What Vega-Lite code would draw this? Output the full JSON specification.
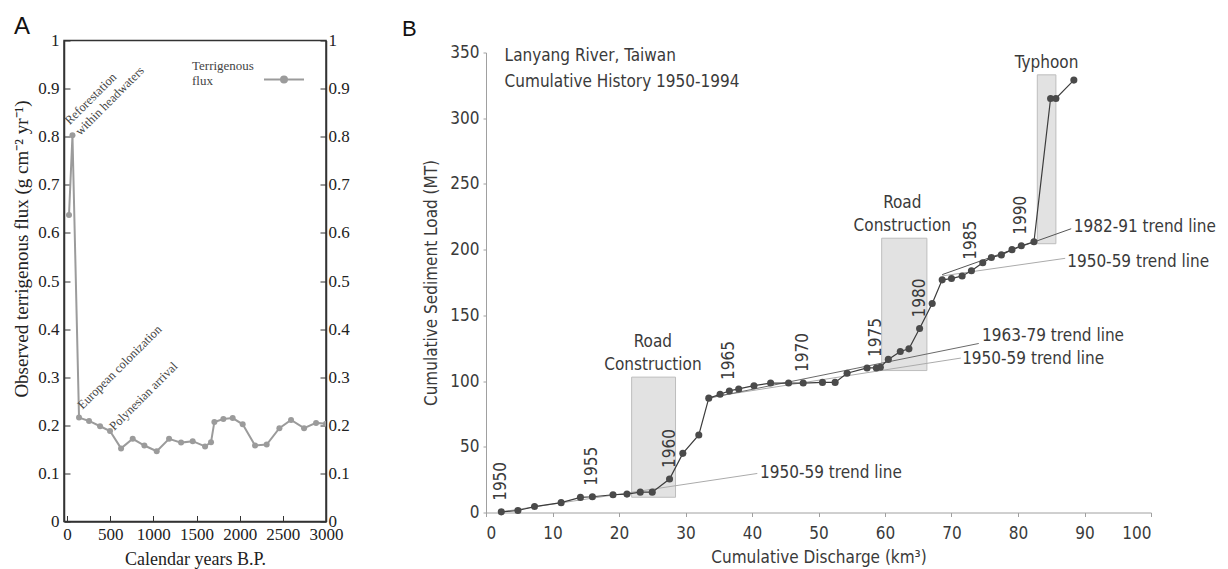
{
  "$schema": "https://vega.github.io/schema/vega-lite/v6.json",
  "background": "white",
  "padding": {"left": 12, "top": 13.5, "right": 5, "bottom": 5},
  "spacing": 52,
  "config": {"view": {"stroke": null}, "axis": {"grid": false}},
  "resolve": {"scale": {"color": "independent"}, "legend": {"color": "independent"}},
  "datasets": {
    "fluxA": [
      {"years_bp": 23, "flux": 0.637},
      {"years_bp": 63, "flux": 0.803},
      {"years_bp": 139, "flux": 0.216},
      {"years_bp": 255, "flux": 0.209},
      {"years_bp": 383, "flux": 0.198},
      {"years_bp": 498, "flux": 0.188},
      {"years_bp": 626, "flux": 0.152},
      {"years_bp": 761, "flux": 0.172},
      {"years_bp": 896, "flux": 0.158},
      {"years_bp": 1039, "flux": 0.146},
      {"years_bp": 1182, "flux": 0.172},
      {"years_bp": 1321, "flux": 0.164},
      {"years_bp": 1456, "flux": 0.167},
      {"years_bp": 1599, "flux": 0.156},
      {"years_bp": 1668, "flux": 0.165},
      {"years_bp": 1707, "flux": 0.207},
      {"years_bp": 1811, "flux": 0.213},
      {"years_bp": 1919, "flux": 0.215},
      {"years_bp": 2035, "flux": 0.202},
      {"years_bp": 2178, "flux": 0.158},
      {"years_bp": 2313, "flux": 0.16},
      {"years_bp": 2460, "flux": 0.194},
      {"years_bp": 2595, "flux": 0.211},
      {"years_bp": 2746, "flux": 0.194},
      {"years_bp": 2885, "flux": 0.205},
      {"years_bp": 3000, "flux": 0.203}
    ],
    "notesA1": [{"years_bp": 63, "flux": 0.803, "note": "Reforestation\nwithin headwaters"}],
    "notesA2": [{"years_bp": 139, "flux": 0.216, "note": "European colonization"}],
    "notesA3": [{"years_bp": 498, "flux": 0.188, "note": "Polynesian arrival"}],
    "lanyang": [
      {"year": 1950, "discharge": 2.3, "sediment": 0.5},
      {"year": 1951, "discharge": 4.8, "sediment": 1.5},
      {"year": 1952, "discharge": 7.3, "sediment": 4.5},
      {"year": 1953, "discharge": 11.3, "sediment": 7.5},
      {"year": 1954, "discharge": 14.2, "sediment": 11.5},
      {"year": 1955, "discharge": 16.0, "sediment": 12},
      {"year": 1956, "discharge": 19.1, "sediment": 13.5},
      {"year": 1957, "discharge": 21.2, "sediment": 14},
      {"year": 1958, "discharge": 23.2, "sediment": 15.5},
      {"year": 1959, "discharge": 25.0, "sediment": 15.5},
      {"year": 1960, "discharge": 27.6, "sediment": 25.5},
      {"year": 1961, "discharge": 29.6, "sediment": 45},
      {"year": 1962, "discharge": 32.0, "sediment": 59},
      {"year": 1963, "discharge": 33.5, "sediment": 87},
      {"year": 1964, "discharge": 35.2, "sediment": 90},
      {"year": 1965, "discharge": 36.6, "sediment": 92.5},
      {"year": 1966, "discharge": 38.0, "sediment": 94},
      {"year": 1967, "discharge": 40.3, "sediment": 96.5},
      {"year": 1968, "discharge": 42.8, "sediment": 98.5},
      {"year": 1969, "discharge": 45.5, "sediment": 98.5},
      {"year": 1970, "discharge": 47.7, "sediment": 98.5},
      {"year": 1971, "discharge": 50.6, "sediment": 99},
      {"year": 1972, "discharge": 52.5, "sediment": 99},
      {"year": 1973, "discharge": 54.3, "sediment": 106},
      {"year": 1974, "discharge": 57.3, "sediment": 110},
      {"year": 1975, "discharge": 58.7, "sediment": 110},
      {"year": 1976, "discharge": 59.3, "sediment": 110.5},
      {"year": 1977, "discharge": 60.5, "sediment": 116.5},
      {"year": 1978, "discharge": 62.3, "sediment": 122.5},
      {"year": 1979, "discharge": 63.6, "sediment": 124.5},
      {"year": 1980, "discharge": 65.2, "sediment": 140},
      {"year": 1981, "discharge": 67.1, "sediment": 159},
      {"year": 1982, "discharge": 68.6, "sediment": 177},
      {"year": 1983, "discharge": 70.0, "sediment": 178},
      {"year": 1984, "discharge": 71.6, "sediment": 180},
      {"year": 1985, "discharge": 73.0, "sediment": 184},
      {"year": 1986, "discharge": 74.7, "sediment": 190},
      {"year": 1987, "discharge": 76.0, "sediment": 194},
      {"year": 1988, "discharge": 77.5, "sediment": 196},
      {"year": 1989, "discharge": 79.1, "sediment": 200},
      {"year": 1990, "discharge": 80.5, "sediment": 203},
      {"year": 1991, "discharge": 82.4, "sediment": 206},
      {"year": 1992, "discharge": 84.9, "sediment": 315},
      {"year": 1993, "discharge": 85.7, "sediment": 315},
      {"year": 1994, "discharge": 88.4, "sediment": 329}
    ],
    "boxesB": [
      {"event": "Road construction 1", "x1": 21.9, "x2": 28.5, "y1": 11.6, "y2": 103},
      {"event": "Road construction 2", "x1": 59.5, "x2": 66.3, "y1": 108, "y2": 208.7},
      {"event": "Typhoon", "x1": 82.9, "x2": 85.7, "y1": 204.5, "y2": 333}
    ],
    "roadLabelsB": [
      {"x": 25.1, "y": 103, "label": "Road\nConstruction"},
      {"x": 62.6, "y": 208.7, "label": "Road\nConstruction"}
    ],
    "typhoonLabelB": [
      {"x": 84.3, "y": 333, "label": "Typhoon"}
    ],
    "trendsB": [
      {"trend": "t1", "kind": "1950-59", "x": 2.3, "y": 0.5},
      {"trend": "t1", "kind": "1950-59", "x": 40.8, "y": 29.7},
      {"trend": "t2", "kind": "1950-59", "x": 34.0, "y": 88},
      {"trend": "t2", "kind": "1950-59", "x": 71.4, "y": 117.5},
      {"trend": "t3", "kind": "1963-79", "x": 33.5, "y": 87},
      {"trend": "t3", "kind": "1963-79", "x": 74.1, "y": 128.6},
      {"trend": "t4", "kind": "1950-59", "x": 68.6, "y": 180},
      {"trend": "t4", "kind": "1950-59", "x": 87.1, "y": 193.4},
      {"trend": "t5", "kind": "1982-91", "x": 68.6, "y": 181},
      {"trend": "t5", "kind": "1982-91", "x": 88.0, "y": 215.9}
    ],
    "trendLabelsB": [
      {"x": 41.2, "y": 30, "label": "1950-59 trend line"},
      {"x": 71.6, "y": 116.5, "label": "1950-59 trend line"},
      {"x": 74.6, "y": 134.5, "label": "1963-79 trend line"},
      {"x": 87.4, "y": 190.8, "label": "1950-59 trend line"},
      {"x": 88.4, "y": 217.6, "label": "1982-91 trend line"}
    ],
    "titleB": [
      {"x": 2.8, "y": 347.7, "label": "Lanyang River, Taiwan\nCumulative History 1950-1994"}
    ]
  },
  "hconcat": [
    {
      "width": 262,
      "height": 481,
      "title": {"text": "A", "anchor": "start", "frame": "group", "dx": -50, "offset": -31, "baseline": "bottom", "font": "Liberation Sans", "fontSize": 24, "fontWeight": "normal", "color": "#111"},
      "view": {"stroke": "#333", "strokeWidth": 1.5},
      "layer": [
        {
          "data": {"name": "fluxA"},
          "mark": {"type": "line", "strokeWidth": 2, "clip": true},
          "encoding": {
            "x": {"field": "years_bp", "type": "quantitative", "scale": {"domain": [-35, 3000], "nice": false, "zero": false},
              "axis": {"title": "Calendar years B.P.", "values": [0,125,250,375,500,625,750,875,1000,1125,1250,1375,1500,1625,1750,1875,2000,2125,2250,2375,2500,2625,2750,2875,3000],
                "format": "d", "labelExpr": "datum.value % 500 === 0 ? datum.label : ''",
                "tickSize": {"condition": {"test": "datum.value % 500 === 0", "value": -6}, "value": -3},
                "tickColor": "#333", "domainColor": "#333", "domainWidth": 1.5, "labelFont": "Liberation Serif", "labelFontSize": 17, "labelColor": "#222", "labelPadding": 11,
                "titleFont": "Liberation Serif", "titleFontSize": 18, "titleFontWeight": "normal", "titleColor": "#222", "titlePadding": 8, "labelFlush": false, "labelOverlap": false}},
            "y": {"field": "flux", "type": "quantitative", "scale": {"domain": [0, 1], "nice": false},
              "axis": {"orient": "left", "title": "Observed terrigenous flux (g cm⁻² yr⁻¹)", "titleY": 208, "values": [0,0.1,0.2,0.3,0.4,0.5,0.6,0.7,0.8,0.9,1], "format": "~g",
                "tickSize": -6, "tickColor": "#333", "domainColor": "#333", "domainWidth": 1.5, "labelFont": "Liberation Serif", "labelFontSize": 17, "labelColor": "#222", "labelPadding": 11,
                "titleFont": "Liberation Serif", "titleFontSize": 19, "titleFontWeight": "normal", "titleColor": "#222", "titlePadding": 6}},
            "color": {"datum": "Terrigenous flux", "type": "nominal", "scale": {"range": ["#9b9b9b"]},
              "legend": {"title": ["Terrigenous", "flux"], "titleOrient": "left", "orient": "none", "legendX": 128, "legendY": 18,
                "labelExpr": "''", "symbolType": "M-1,0H1M0.15,0A0.15,0.15,0,1,1,-0.15,0A0.15,0.15,0,1,1,0.15,0", "symbolSize": 1600, "symbolStrokeWidth": 2, "symbolFillColor": "#9b9b9b",
                "titleFont": "Liberation Serif", "titleFontSize": 13, "titleFontWeight": "normal", "titleColor": "#444", "titlePadding": 9, "titleLineHeight": 15}}
          }
        },
        {
          "data": {"name": "fluxA"},
          "mark": {"type": "point", "filled": true, "size": 36, "color": "#9b9b9b", "opacity": 1, "clip": true},
          "encoding": {
            "x": {"field": "years_bp", "type": "quantitative"},
            "y": {"field": "flux", "type": "quantitative",
              "axis": {"orient": "right", "title": null, "values": [0,0.1,0.2,0.3,0.4,0.5,0.6,0.7,0.8,0.9,1], "format": "~g",
                "tickSize": -6, "tickColor": "#333", "domainColor": "#333", "domainWidth": 1.5, "labelFont": "Liberation Serif", "labelFontSize": 17, "labelColor": "#222", "labelPadding": 8}}
          }
        },
        {
          "data": {"name": "notesA1"},
          "mark": {"type": "text", "angle": -45, "align": "left", "baseline": "alphabetic", "dx": 5, "dy": -9, "lineBreak": "\n", "lineHeight": 15, "font": "Liberation Serif", "fontSize": 12.5, "color": "#444"},
          "encoding": {"x": {"field": "years_bp", "type": "quantitative"}, "y": {"field": "flux", "type": "quantitative", "axis": null}, "text": {"field": "note"}}
        },
        {
          "data": {"name": "notesA2"},
          "mark": {"type": "text", "angle": -45, "align": "left", "baseline": "alphabetic", "dx": 8, "dy": -3, "font": "Liberation Serif", "fontSize": 12.5, "color": "#444"},
          "encoding": {"x": {"field": "years_bp", "type": "quantitative"}, "y": {"field": "flux", "type": "quantitative", "axis": null}, "text": {"field": "note"}}
        },
        {
          "data": {"name": "notesA3"},
          "mark": {"type": "text", "angle": -45, "align": "left", "baseline": "alphabetic", "dx": 3, "dy": 3, "font": "Liberation Serif", "fontSize": 12.5, "color": "#444"},
          "encoding": {"x": {"field": "years_bp", "type": "quantitative"}, "y": {"field": "flux", "type": "quantitative", "axis": null}, "text": {"field": "note"}}
        }
      ],
      "resolve": {"axis": {"y": "independent"}}
    },
    {
      "width": 665,
      "height": 472,
      "title": {"text": "B", "anchor": "start", "frame": "group", "dx": -84, "offset": -22.5, "baseline": "bottom", "font": "Liberation Sans", "fontSize": 22, "fontWeight": "normal", "color": "#111"},
      "view": {"stroke": null},
      "layer": [
        {
          "data": {"name": "boxesB"},
          "mark": {"type": "rect", "fill": "#e2e2e2", "stroke": "#bdbdbd", "strokeWidth": 1},
          "encoding": {
            "x": {"field": "x1", "type": "quantitative", "scale": {"domain": [0, 100], "nice": false},
              "axis": {"title": "Cumulative Discharge (km³)", "values": [0,10,20,30,40,50,60,70,80,90,100],
                "domainColor": "#a0a0a0", "tickColor": "#a0a0a0", "tickSize": 4, "labelFont": "DejaVu Sans Condensed, DejaVu Sans", "labelFontSize": 17, "labelColor": "#3a3a3a", "labelPadding": 9,
                "titleFont": "DejaVu Sans Condensed, DejaVu Sans", "titleFontSize": 17, "titleFontWeight": "normal", "titleColor": "#3a3a3a", "titlePadding": 8}},
            "x2": {"field": "x2"},
            "y": {"field": "y1", "type": "quantitative", "scale": {"domain": [0, 350], "range": [472, 12], "nice": false},
              "axis": {"title": "Cumulative Sediment Load (MT)", "values": [0,50,100,150,200,250,300,350],
                "domainColor": "#a0a0a0", "tickColor": "#a0a0a0", "tickSize": 3, "labelFont": "DejaVu Sans Condensed, DejaVu Sans", "labelFontSize": 17, "labelColor": "#3a3a3a", "labelPadding": 4,
                "titleFont": "DejaVu Sans Condensed, DejaVu Sans", "titleFontSize": 17, "titleFontWeight": "normal", "titleColor": "#3a3a3a", "titlePadding": 9}},
            "y2": {"field": "y2"}
          }
        },
        {
          "data": {"name": "roadLabelsB"},
          "mark": {"type": "text", "align": "center", "baseline": "bottom", "dy": -26, "lineBreak": "\n", "lineHeight": 23, "font": "DejaVu Sans Condensed, DejaVu Sans", "fontSize": 17, "color": "#3a3a3a"},
          "encoding": {"x": {"field": "x", "type": "quantitative"}, "y": {"field": "y", "type": "quantitative"}, "text": {"field": "label"}}
        },
        {
          "data": {"name": "typhoonLabelB"},
          "mark": {"type": "text", "align": "center", "baseline": "bottom", "dy": -3, "font": "DejaVu Sans Condensed, DejaVu Sans", "fontSize": 17, "color": "#3a3a3a"},
          "encoding": {"x": {"field": "x", "type": "quantitative"}, "y": {"field": "y", "type": "quantitative"}, "text": {"field": "label"}}
        },
        {
          "data": {"name": "trendsB"},
          "mark": {"type": "line", "strokeWidth": 1},
          "encoding": {
            "x": {"field": "x", "type": "quantitative"},
            "y": {"field": "y", "type": "quantitative"},
            "detail": {"field": "trend"},
            "color": {"field": "kind", "type": "nominal", "scale": {"domain": ["1950-59", "1963-79", "1982-91"], "range": ["#ababab", "#6a6a6a", "#555555"]}, "legend": null}
          }
        },
        {
          "data": {"name": "trendLabelsB"},
          "mark": {"type": "text", "align": "left", "baseline": "middle", "font": "DejaVu Sans Condensed, DejaVu Sans", "fontSize": 17, "color": "#3a3a3a"},
          "encoding": {"x": {"field": "x", "type": "quantitative"}, "y": {"field": "y", "type": "quantitative"}, "text": {"field": "label"}}
        },
        {
          "data": {"name": "lanyang"},
          "mark": {"type": "line", "color": "#3c3c3c", "strokeWidth": 1.2},
          "encoding": {"x": {"field": "discharge", "type": "quantitative"}, "y": {"field": "sediment", "type": "quantitative"}, "order": {"field": "year"}}
        },
        {
          "data": {"name": "lanyang"},
          "mark": {"type": "point", "filled": true, "size": 50, "color": "#4a4a4a", "opacity": 1},
          "encoding": {"x": {"field": "discharge", "type": "quantitative"}, "y": {"field": "sediment", "type": "quantitative"}}
        },
        {
          "data": {"name": "lanyang"},
          "transform": [{"filter": "datum.year % 5 === 0"}],
          "mark": {"type": "text", "angle": 270, "align": "left", "baseline": "middle", "dx": 11, "font": "DejaVu Sans Condensed, DejaVu Sans", "fontSize": 17, "color": "#3a3a3a"},
          "encoding": {"x": {"field": "discharge", "type": "quantitative"}, "y": {"field": "sediment", "type": "quantitative"}, "text": {"field": "year", "type": "nominal"}}
        },
        {
          "data": {"name": "titleB"},
          "mark": {"type": "text", "align": "left", "baseline": "middle", "lineBreak": "\n", "lineHeight": 26, "font": "DejaVu Sans Condensed, DejaVu Sans", "fontSize": 17, "color": "#3a3a3a"},
          "encoding": {"x": {"field": "x", "type": "quantitative"}, "y": {"field": "y", "type": "quantitative"}, "text": {"field": "label"}}
        }
      ]
    }
  ]
}
